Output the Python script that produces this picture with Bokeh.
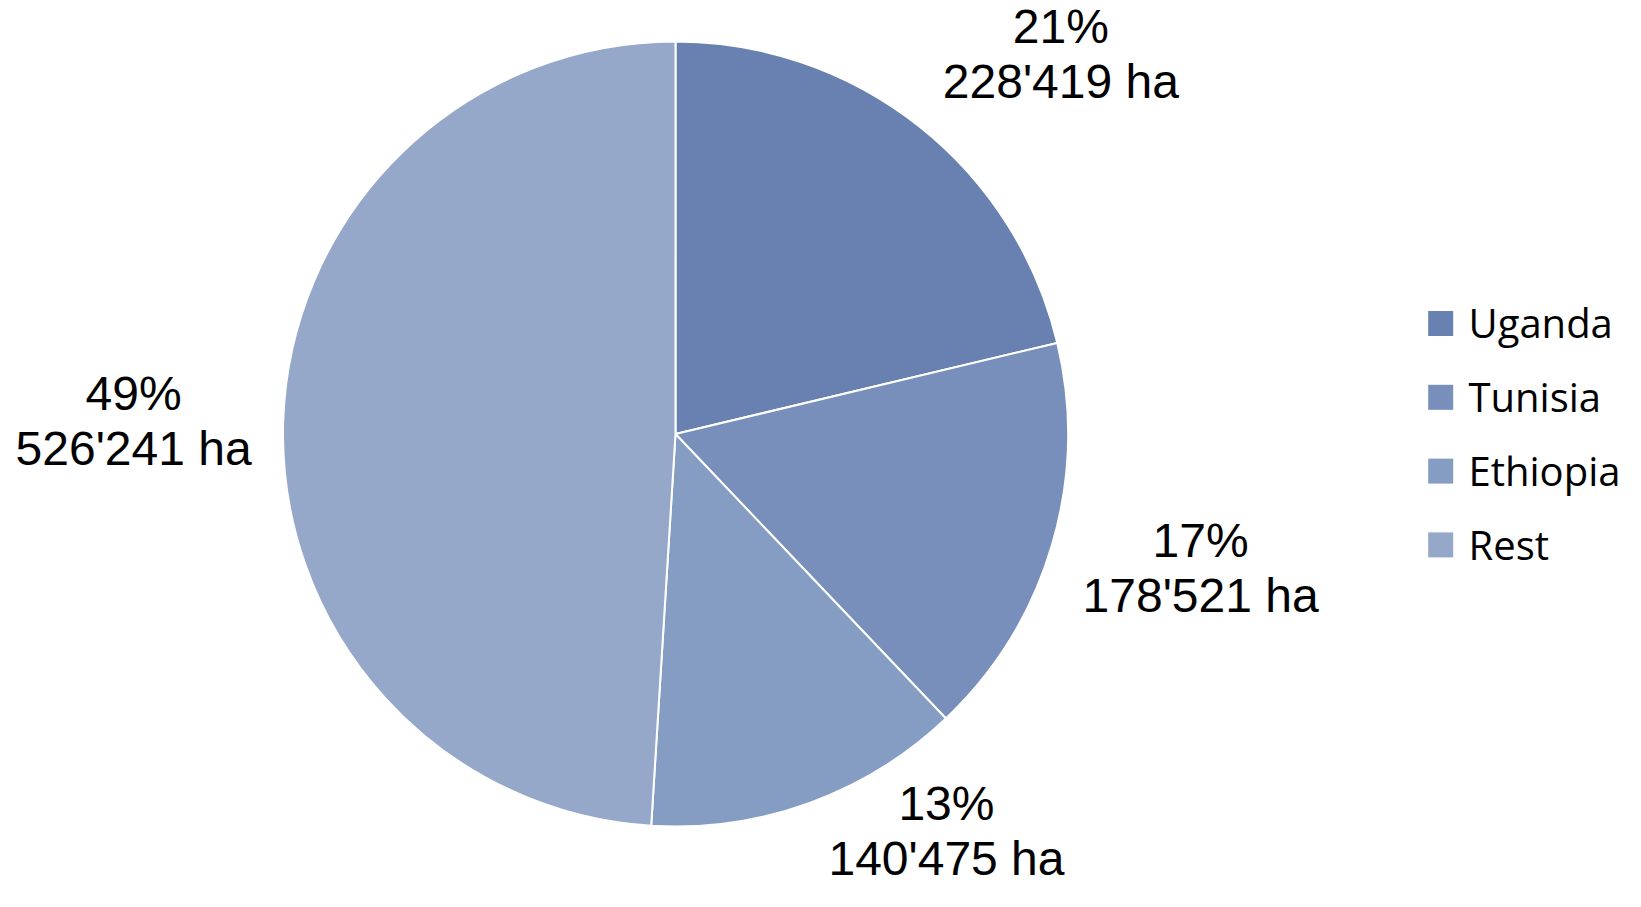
import math
from bokeh.plotting import figure
from bokeh.models import Range1d, ColumnDataSource
from bokeh.core.properties import value
from bokeh.embed import file_html
from bokeh.resources import INLINE

# ---- data ----
countries = ["Uganda", "Tunisia", "Ethiopia", "Rest"]
areas_ha = [228419, 178521, 140475, 526241]

# ---- style / layout (in reference-picture pixels) ----
colors = ["#6881b1", "#778fba", "#869dc3", "#95a8c9"]
REF_H = 907
W, H = 1625, 891
CX, CY, R = 675.0, 433.5, 392.5
label_nudge_dy = [-56, 17, 10, 0]     # vertical nudge of label blocks (px, down +)
LABEL_FONT = "Liberation Sans"
LEGEND_FONT = "Open Sans"
LABEL_SIZE = 48
LEGEND_SIZE = 40
BASE_FIX = 0.36   # em correction for the renderer's alphabetic baseline


def yd(s):
    """picture y (down) -> data y (up)"""
    return REF_H - s


total = sum(areas_ha)
fracs = [a / total for a in areas_ha]

start_angles, end_angles, mids = [], [], []
cum = 0.0
for f in fracs:
    a0 = 90.0 - cum * 360.0
    cum += f
    a1 = 90.0 - cum * 360.0
    start_angles.append(math.radians(a0))
    end_angles.append(math.radians(a1))
    mids.append(math.radians((a0 + a1) / 2.0))

p = figure(width=W, height=H, output_backend="svg", toolbar_location=None,
           x_range=Range1d(0, W), y_range=Range1d(yd(H), yd(0)),
           min_border=0, outline_line_color=None)
p.axis.visible = False
p.grid.visible = False
p.background_fill_color = "white"
p.border_fill_color = "white"

src = ColumnDataSource(dict(
    x=[CX] * len(countries), y=[yd(CY)] * len(countries),
    start=start_angles, end=end_angles, color=colors, name=countries))
p.wedge(x="x", y="y", radius=R, start_angle="start", end_angle="end",
        direction="clock", fill_color="color", line_color="white",
        line_width=2, source=src)

# ---- data labels ----
pct_txt, val_txt, lx, ly1, ly2 = [], [], [], [], []
for f, a, m, dy in zip(fracs, areas_ha, mids, label_nudge_dy):
    ax = CX + 1.05 * R * math.cos(m)
    ay = CY - 1.05 * R * math.sin(m)
    bx = ax + (130 if math.cos(m) >= 0 else -130)
    by = ay + dy
    base1 = by - 10.5 - BASE_FIX * LABEL_SIZE
    lx.append(bx)
    ly1.append(yd(base1))
    ly2.append(yd(base1 + 55))
    pct_txt.append(f"{round(f * 100)}%")
    val_txt.append(f"{a:,}".replace(",", "'") + " ha")

p.text(x=lx, y=ly1, text=pct_txt, text_align="center", text_baseline="alphabetic",
       text_font=value(LABEL_FONT), text_font_size=f"{LABEL_SIZE}px", text_color="black")
p.text(x=lx, y=ly2, text=val_txt, text_align="center", text_baseline="alphabetic",
       text_font=value(LABEL_FONT), text_font_size=f"{LABEL_SIZE}px", text_color="black")

# ---- legend ----
LEG_X, LEG_Y0, LEG_DY, SQ = 1440.2, 323.0, 73.8, 25
leg_y = [LEG_Y0 + i * LEG_DY for i in range(len(countries))]
p.rect(x=[LEG_X] * len(countries), y=[yd(v) for v in leg_y], width=SQ, height=SQ,
       width_units="screen", height_units="screen", fill_color=colors, line_color=None)
p.text(x=[1468] * len(countries),
       y=[yd(v + SQ / 2 + 1 - BASE_FIX * LEGEND_SIZE) for v in leg_y], text=countries,
       text_align="left", text_baseline="alphabetic", text_font=value(LEGEND_FONT),
       text_font_size=f"{LEGEND_SIZE}px", text_color="black")

open("out.html", "w").write(file_html(p, INLINE))
